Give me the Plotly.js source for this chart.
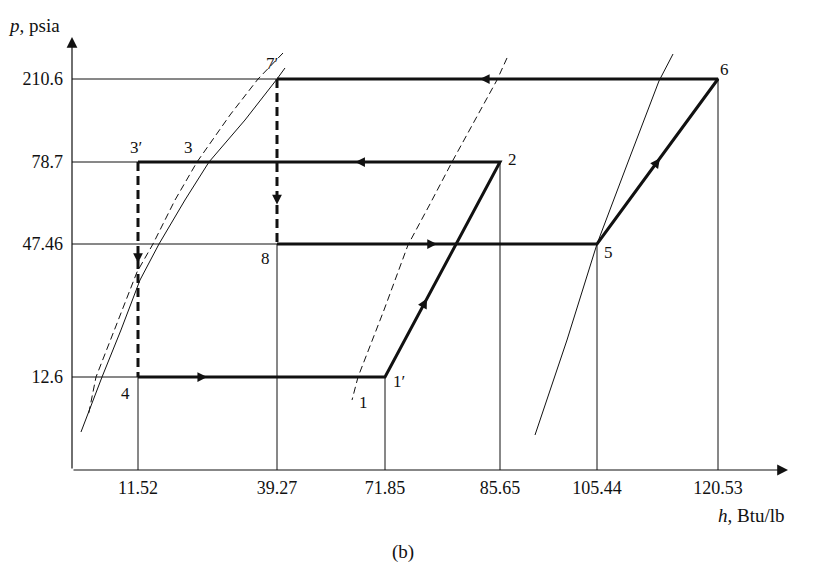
<!DOCTYPE html>
<html><head><meta charset="utf-8">
<script src="https://cdn.plot.ly/plotly-3.0.1.min.js"></script>
<style>html,body{margin:0;padding:0;background:#fff}#chart{width:820px;height:574px}</style>
</head><body><div id="chart"></div>
<script>
// ---- tick values (axis labels) ----
const hTicks = [11.52, 39.27, 71.85, 85.65, 105.44, 120.53];   // h, Btu/lb
const pTicks = [12.6, 47.46, 78.7, 210.6];                       // p, psia

// ---- cycle state points ----
const stateNames = ["1′", "2", "3′", "4", "5", "6", "7′", "8"];
const stateH = [71.85, 85.65, 11.52, 11.52, 105.44, 120.53, 39.27, 39.27];
const stateP = [12.6, 78.7, 78.7, 12.6, 47.46, 210.6, 210.6, 47.46];

// cycle paths (by state name)
const lowSolidPath = ["4", "1′", "2", "3′"];
const lowThrottle = ["3′", "4"];
const highSolidPath = ["8", "5", "6", "7′"];
const highThrottle = ["7′", "8"];

// ---- saturation curves ----
const liqDashedH = [41.08, 35.48, 29.89, 23.30, 18.91, 14.51, 11.35, 8.10, 4.19, 2.79];
const liqDashedP = [251.9, 210.6, 153.4, 78.7, 64.22, 47.46, 40.12, 27.5, 12.6, 7.18];
const liqSolidH = [41.68, 39.27, 32.88, 25.69, 20.90, 15.71, 11.92, 8.55, 5.24, 1.57];
const liqSolidP = [228.1, 210.6, 145.4, 78.7, 64.22, 47.46, 38.02, 24.92, 12.6, 5.15];
const vapDashedH = [87.08, 85.29, 82.65, 79.89, 77.25, 74.61, 71.55, 63.71, 61.90];
const vapDashedP = [244.0, 209.0, 145.4, 78.7, 62.7, 47.2, 30.16, 12.6, 9.48];
const vapSolidH = [114.92, 113.17, 109.31, 107.31, 105.44, 99.32, 92.79];
const vapSolidP = [250.3, 207.4, 78.7, 62.7, 47.46, 22.3, 4.74];

// labelled saturation points
const satLabelNames = ["1", "3"];
const satLabelH = [63.71, 23.30];
const satLabelP = [12.6, 78.7];

// ---- schematic (non-uniform) axis layout ----
const H_SLOT_VALS = [0].concat(hTicks);
const H_SLOT_POS = [0, 0.66, 2.05, 3.13, 4.28, 5.25, 6.46];
const P_SLOT_VALS = [0].concat(pTicks);
const P_SLOT_POS = [0, 0.93, 2.26, 3.08, 3.91];
function pw(v, vals, pos) {
  let i = 1;
  while (i < vals.length - 1 && v > vals[i]) i++;
  return pos[i - 1] + (v - vals[i - 1]) / (vals[i] - vals[i - 1]) * (pos[i] - pos[i - 1]);
}
const X = h => pw(h, H_SLOT_VALS, H_SLOT_POS);
const Y = p => pw(p, P_SLOT_VALS, P_SLOT_POS);
const sIdx = n => stateNames.indexOf(n);
const SX = n => X(stateH[sIdx(n)]);
const SY = n => Y(stateP[sIdx(n)]);

const INK = '#111';
const traces = [];

// thin projection lines
const tx = [], ty = [];
pTicks.forEach(p => {
  const hs = stateH.filter((h, i) => stateP[i] === p);
  tx.push(X(0), X(Math.min(...hs)), null); ty.push(Y(p), Y(p), null);
});
hTicks.forEach(h => {
  const ps = stateP.filter((q, i) => stateH[i] === h);
  tx.push(X(h), X(h), null); ty.push(Y(0), Y(Math.min(...ps)), null);
});
traces.push({x: tx, y: ty, mode: 'lines', line: {color: INK, width: 1}, hoverinfo: 'skip'});

// saturation curves
function curve(hs, ps, dash) {
  return {x: hs.map(X), y: ps.map(Y), mode: 'lines', line: {color: INK, width: 1, dash: dash}, hoverinfo: 'skip'};
}
traces.push(curve(liqDashedH, liqDashedP, '7px,4px'));
traces.push(curve(liqSolidH, liqSolidP, 'solid'));
traces.push(curve(vapDashedH, vapDashedP, '7px,4px'));
traces.push(curve(vapSolidH, vapSolidP, 'solid'));

// cycle lines
function path(names, dash) {
  return {x: names.map(SX), y: names.map(SY), mode: 'lines', line: {color: INK, width: 3, dash: dash}, hoverinfo: 'skip'};
}
traces.push(path(lowSolidPath, 'solid'));
traces.push(path(highSolidPath, 'solid'));
traces.push(path(lowThrottle, '9px,5px'));
traces.push(path(highThrottle, '9px,5px'));

// flow-direction arrows: [from, to, fraction along segment]
const flowArrows = [["4", "1′", 0.28], ["1′", "2", 0.365], ["2", "3′", 0.40], ["3′", "4", 0.47],
                    ["8", "5", 0.50], ["5", "6", 0.52], ["6", "7′", 0.54], ["7′", "8", 0.76]];
const annotations = [];
flowArrows.forEach(([a, b, f]) => {
  const x0 = SX(a), y0 = SY(a), x1 = SX(b), y1 = SY(b);
  const L = Math.hypot(x1 - x0, y1 - y0);
  const tipX = x0 + f * (x1 - x0), tipY = y0 + f * (y1 - y0);
  annotations.push({x: tipX, y: tipY, ax: tipX - 0.12 * (x1 - x0) / L, ay: tipY - 0.12 * (y1 - y0) / L,
    xref: 'x', yref: 'y', axref: 'x', ayref: 'y', text: '', showarrow: true,
    arrowhead: 2, arrowwidth: 1.5, arrowsize: 1.3, arrowcolor: INK, standoff: 0});
});

// axis arrows
annotations.push({x: 7.16, y: 0, ax: 0, ay: 0, xref: 'x', yref: 'y', axref: 'x', ayref: 'y', text: '',
  showarrow: true, arrowhead: 2, arrowwidth: 1.2, arrowsize: 1.8, arrowcolor: INK});
annotations.push({x: 0, y: 4.33, ax: 0, ay: 0, xref: 'x', yref: 'y', axref: 'x', ayref: 'y', text: '',
  showarrow: true, arrowhead: 2, arrowwidth: 1.2, arrowsize: 1.8, arrowcolor: INK});

// state labels (pixel offsets)
const labelShift = {"1′": [14, -4], "2": [12, 3], "3′": [-2, 15], "4": [-13, -16],
                    "5": [11, -8], "6": [6, 10], "7′": [-5, 16], "8": [-12, -14]};
stateNames.forEach(n => {
  annotations.push({x: SX(n), y: SY(n), xref: 'x', yref: 'y', text: n, showarrow: false,
    xshift: labelShift[n][0], yshift: labelShift[n][1], font: {size: 17, color: INK}});
});
const satShift = {"1": [5, -25], "3": [-9, 15]};
satLabelNames.forEach((n, i) => {
  annotations.push({x: X(satLabelH[i]), y: Y(satLabelP[i]), xref: 'x', yref: 'y', text: n, showarrow: false,
    xshift: satShift[n][0], yshift: satShift[n][1], font: {size: 17, color: INK}});
});

// axis titles and caption
annotations.push({xref: 'paper', yref: 'paper', x: 0, y: 1, xanchor: 'right', yanchor: 'middle',
  xshift: -10, yshift: 13, text: '<i>p</i>, psia', showarrow: false, font: {size: 19, color: INK}});
annotations.push({xref: 'paper', yref: 'paper', x: 1, y: 0, xanchor: 'right', yanchor: 'middle',
  xshift: -3, yshift: -45, text: '<i>h</i>, Btu/lb', showarrow: false, font: {size: 19, color: INK}});
annotations.push({xref: 'paper', yref: 'paper', x: 0.461, y: 0, xanchor: 'center', yanchor: 'middle',
  yshift: -82, text: '(b)', showarrow: false, font: {size: 19, color: INK}});

const layout = {
  width: 820, height: 574,
  margin: {l: 72, r: 30, t: 38, b: 104},
  paper_bgcolor: '#fff', plot_bgcolor: '#fff', showlegend: false,
  font: {family: '"Liberation Serif", "Times New Roman", serif', size: 18, color: INK},
  xaxis: {range: [0, 7.18], tickvals: hTicks.map(X), ticktext: hTicks.map(String),
          showgrid: false, zeroline: false, showline: false, ticks: '', ticklabelstandoff: 5,
          tickfont: {size: 18, color: INK}},
  yaxis: {range: [0, 4.32], tickvals: pTicks.map(Y), ticktext: pTicks.map(String),
          showgrid: false, zeroline: false, showline: false, ticks: '', ticklabelstandoff: 8,
          tickfont: {size: 18, color: INK}},
  annotations: annotations
};
Plotly.newPlot('chart', traces, layout, {displayModeBar: false, staticPlot: true});
</script>
</body></html>
